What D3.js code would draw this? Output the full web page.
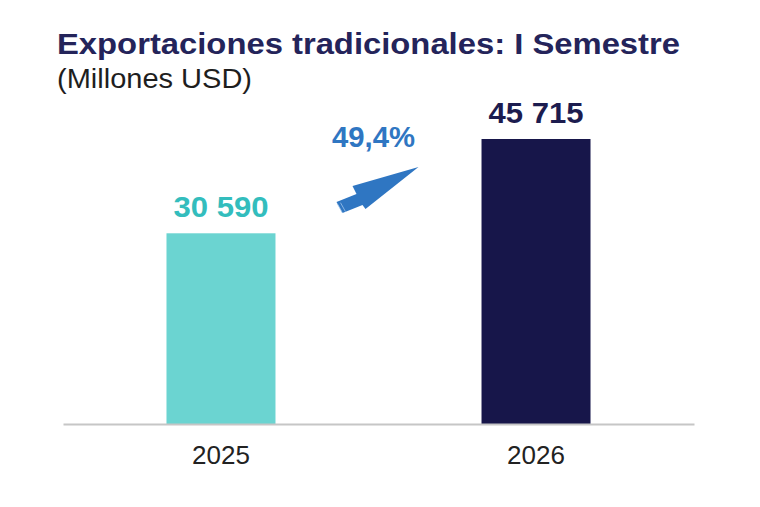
<!DOCTYPE html>
<html>
<head>
<meta charset="utf-8">
<script src="https://cdn.jsdelivr.net/npm/d3@7"></script>
<style>
  body { margin: 0; background: #fff; }
  svg { display: block; font-family: "Liberation Sans", Arial, sans-serif; }
</style>
</head>
<body>
<svg id="chart"></svg>
<script>
// data
const years = ["2025", "2026"];
const values = [30590, 45715];
const valueLabels = ["30 590", "45 715"];
const growthLabel = "49,4%";
const titleText = "Exportaciones tradicionales: I Semestre";
const subtitleText = "(Millones USD)";

const W = 760, H = 507;
const barColors = ["#6bd4d1", "#17164a"];
const labelColors = ["#33bdbd", "#1c1c4f"];
const blue = "#2f76c2";

const svg = d3.select("#chart").attr("width", W).attr("height", H);

const x = d3.scaleBand()
    .domain(years)
    .range([63, 694])
    .paddingInner(0.654)
    .paddingOuter(0.3285);

const y = d3.scaleLinear()
    .domain([0, d3.max(values)])
    .range([424, 139]);

// title
svg.append("text")
    .attr("x", 57).attr("y", 54)
    .attr("font-size", 29).attr("font-weight", "bold")
    .attr("fill", "#24245a")
    .attr("textLength", 623).attr("lengthAdjust", "spacingAndGlyphs")
    .text(titleText);

svg.append("text")
    .attr("x", 57).attr("y", 88)
    .attr("font-size", 27)
    .attr("fill", "#1e1e1e")
    .attr("textLength", 195).attr("lengthAdjust", "spacingAndGlyphs")
    .text(subtitleText);

// bars
svg.selectAll("rect.bar")
    .data(values)
    .enter()
    .append("rect")
    .attr("class", "bar")
    .attr("x", (d, i) => x(years[i]))
    .attr("width", x.bandwidth())
    .attr("y", d => y(d))
    .attr("height", d => y(0) - y(d))
    .attr("fill", (d, i) => barColors[i]);

// value labels
svg.selectAll("text.val")
    .data(values)
    .enter()
    .append("text")
    .attr("class", "val")
    .attr("x", (d, i) => x(years[i]) + x.bandwidth() / 2)
    .attr("y", d => y(d) - 16)
    .attr("text-anchor", "middle")
    .attr("font-size", 29).attr("font-weight", "bold")
    .attr("fill", (d, i) => labelColors[i])
    .attr("textLength", 95).attr("lengthAdjust", "spacingAndGlyphs")
    .text((d, i) => valueLabels[i]);

// axis
const axis = svg.append("g")
    .attr("transform", `translate(0,${y(0)})`)
    .call(d3.axisBottom(x).tickSize(0).tickPadding(22));
axis.select(".domain").attr("stroke", "#c6c6c6").attr("stroke-width", 2);
axis.selectAll("text")
    .attr("font-size", 26)
    .attr("font-family", "\"Liberation Sans\", Arial, sans-serif")
    .attr("fill", "#222");

// growth arrow, placed between the two bars
const midX = (x(years[0]) + x.bandwidth() + x(years[1])) / 2;
const tipY = y(values[1]) + 28;
const arrow = svg.append("g")
    .attr("transform", `translate(${midX + 40},${tipY})`);
arrow.append("path")
    .attr("d", "M0,0 L-66,19 L-62,27 L-82,35 L-76,46 L-56,38 L-53,42 Z")
    .attr("fill", blue);
// light stripes at the tail
[0, 1].forEach(k => {
    arrow.append("line")
        .attr("x1", -81 + k * 3).attr("y1", 37 - k * 1.3)
        .attr("x2", -76 + k * 3).attr("y2", 46 - k * 1.3)
        .attr("stroke", "#9ec3ea").attr("stroke-width", 0.8);
});

svg.append("text")
    .attr("x", midX - 5).attr("y", 147)
    .attr("text-anchor", "middle")
    .attr("font-size", 29).attr("font-weight", "bold")
    .attr("fill", blue)
    .attr("textLength", 83).attr("lengthAdjust", "spacingAndGlyphs")
    .text(growthLabel);
</script>
</body>
</html>
